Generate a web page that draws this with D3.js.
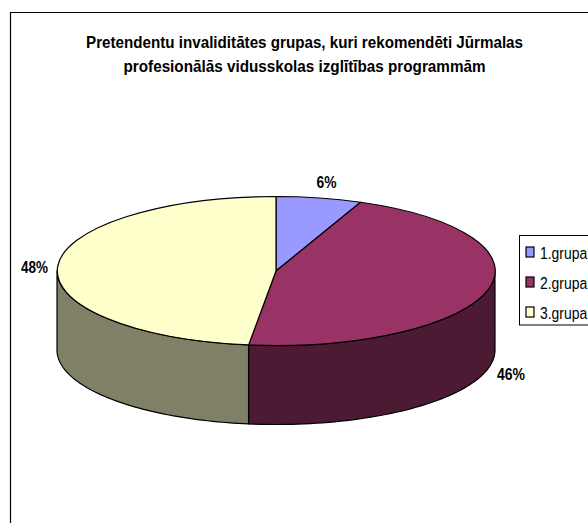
<!DOCTYPE html>
<html lang="lv">
<head>
    <meta charset="UTF-8">
    <title>Pretendentu invaliditātes grupas</title>
    <script src="https://d3js.org/d3.v7.min.js"></script>
    <style>
        html, body { margin: 0; padding: 0; background: #fff; overflow: hidden; }
        svg { display: block; }
        text { font-family: "Liberation Sans", Arial, sans-serif; fill: #000; }
        .title, .value { font-weight: bold; font-size: 17px; }
        .legend-label { font-size: 17px; }
    </style>
</head>
<body>
    <svg width="588" height="523"></svg>
    <script>
        const categories = ["1.grupa", "2.grupa", "3.grupa"];
        const shares = [6.3, 45.7, 48];
        const shareLabels = ["6%", "46%", "48%"];
        const titleLines = [
            "Pretendentu invaliditātes grupas, kuri rekomendēti Jūrmalas",
            "profesionālās vidusskolas izglītības programmām"
        ];
        const topColors = ["#9999ff", "#993366", "#ffffcc"];
        const sideColors = ["#4d4d80", "#4d1a33", "#808066"];

        const svg = d3.select("svg");

        // Chart border (runs off the right and bottom of the picture)
        svg.append("path")
            .attr("d", "M10.5,523V12.5H588")
            .attr("fill", "none")
            .attr("stroke", "#000")
            .attr("stroke-width", 1.2);

        // Title
        const titleWidths = [437, 362];
        svg.selectAll(".title")
            .data(titleLines)
            .enter()
            .append("text")
            .attr("class", "title")
            .attr("x", 304.5)
            .attr("y", (d, i) => 48 + i * 24)
            .attr("text-anchor", "middle")
            .attr("textLength", (d, i) => titleWidths[i])
            .attr("lengthAdjust", "spacingAndGlyphs")
            .text(d => d);

        // Pie geometry: flattened ellipse with a wall below it
        const cx = 276, cy = 271, rx = 219, ry = 74.5, depth = 79;
        const ex = a => cx + rx * Math.sin(a);
        const ey = a => cy - ry * Math.cos(a);

        const arcs = d3.pie().sort(null)(shares);
        const arcGen = d3.arc().innerRadius(0).outerRadius(1);

        // Walls, only the part of each slice facing the viewer
        const wallLine = d3.line();
        arcs.forEach((d, i) => {
            const from = Math.max(d.startAngle, Math.PI / 2);
            const to = Math.min(d.endAngle, Math.PI * 1.5);
            if (to <= from) return;
            const steps = d3.range(0, 61).map(k => from + (to - from) * k / 60);
            const lower = steps.map(a => [ex(a), ey(a) + depth]);
            const upper = steps.slice().reverse().map(a => [ex(a), ey(a)]);
            svg.append("path")
                .attr("d", wallLine(lower.concat(upper)) + "Z")
                .attr("fill", sideColors[i])
                .attr("stroke", "#000")
                .attr("stroke-width", 1.2)
                .attr("stroke-linejoin", "round");
        });

        // Top face
        svg.append("g")
            .attr("transform", `translate(${cx},${cy}) scale(${rx},${ry})`)
            .selectAll("path")
            .data(arcs)
            .enter()
            .append("path")
            .attr("d", arcGen)
            .attr("fill", (d, i) => topColors[i])
            .attr("stroke", "#000")
            .attr("stroke-width", 1.2)
            .attr("stroke-linejoin", "round")
            .attr("vector-effect", "non-scaling-stroke");

        // Value labels
        const labelPos = [[326.5, 187.5], [511, 380], [34.5, 273]];
        const labelWidths = [20, 28, 27];
        svg.selectAll(".value")
            .data(shareLabels)
            .enter()
            .append("text")
            .attr("class", "value")
            .attr("x", (d, i) => labelPos[i][0])
            .attr("y", (d, i) => labelPos[i][1])
            .attr("text-anchor", "middle")
            .attr("textLength", (d, i) => labelWidths[i])
            .attr("lengthAdjust", "spacingAndGlyphs")
            .text(d => d);

        // Legend
        const legendY = d3.scalePoint().domain(categories).range([252, 312]);
        svg.append("rect")
            .attr("x", 519.5).attr("y", 235.5)
            .attr("width", 80).attr("height", 89.5)
            .attr("fill", "#fff")
            .attr("stroke", "#000");

        const legendRows = svg.selectAll(".legend-row")
            .data(categories)
            .enter()
            .append("g")
            .attr("class", "legend-row")
            .attr("transform", d => `translate(0,${legendY(d)})`);

        legendRows.append("rect")
            .attr("x", 526).attr("y", -5)
            .attr("width", 8).attr("height", 10)
            .attr("fill", (d, i) => topColors[i])
            .attr("stroke", "#000")
            .attr("stroke-width", 1.2);

        // squeezed sideways so the narrow label stays inside the picture
        legendRows.append("text")
            .attr("class", "legend-label")
            .attr("transform", "translate(540,6.5) scale(0.82,1)")
            .text(d => d);
    </script>
</body>
</html>
